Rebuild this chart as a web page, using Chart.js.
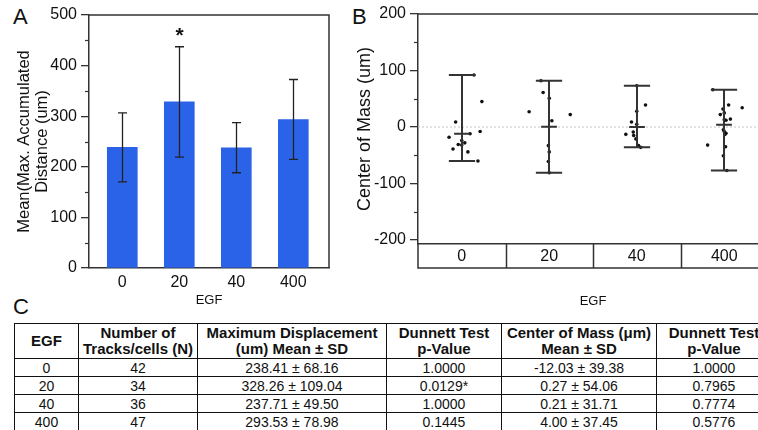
<!DOCTYPE html>
<html>
<head>
<meta charset="utf-8">
<script src="https://cdn.jsdelivr.net/npm/chart.js@4.4.1/dist/chart.umd.min.js"></script>
<style>
  body { margin: 0; width: 758px; height: 430px; overflow: hidden; position: relative; background: #fff;
         font-family: "Liberation Sans", Arial, sans-serif; color: #111; }
  .panel { position: absolute; font-size: 22px; line-height: 22px; }
  canvas { position: absolute; top: 0; }
  #tbl { position: absolute; left: 14px; top: 323px; border-collapse: collapse; table-layout: fixed; width: 757px; }
  #tbl th, #tbl td { border: 1.5px solid #111; padding: 0; text-align: center; white-space: nowrap; overflow: hidden; }
  #tbl th { font-size: 15px; line-height: 16px; font-weight: bold; height: 34px; }
  #tbl td { font-size: 14px; line-height: 16px; height: 17px; }
</style>
</head>
<body>
<div class="panel" style="left:13px; top:6px">A</div>
<div class="panel" style="left:352px; top:6px">B</div>
<div class="panel" style="left:13px; top:296px">C</div>
<canvas id="chartA" width="340" height="310" style="left:0"></canvas>
<canvas id="chartB" width="440" height="310" style="left:340px"></canvas>
<table id="tbl">
  <colgroup>
    <col style="width:64px"><col style="width:119px"><col style="width:189px">
    <col style="width:115px"><col style="width:155px"><col style="width:115px">
  </colgroup>
  <thead><tr>
    <th>EGF</th>
    <th>Number of<br>Tracks/cells (N)</th>
    <th>Maximum Displacement<br>(um) Mean ± SD</th>
    <th>Dunnett Test<br>p-Value</th>
    <th>Center of Mass (μm)<br>Mean ± SD</th>
    <th>Dunnett Test<br>p-Value</th>
  </tr></thead>
  <tbody id="tbody"></tbody>
</table>
<script>
// EGF groups and summary stats (from table C)
const egf = ['0', '20', '40', '400'];
const nTracks = [42, 34, 36, 47];
const distMean = [238.41, 328.26, 237.71, 293.53];
const distSD = [68.16, 109.04, 49.50, 78.98];
const distP = ['1.0000', '0.0129*', '1.0000', '0.1445'];
const comMean = [-12.03, 0.27, 0.21, 4.00];
const comSD = [39.38, 54.06, 31.71, 37.45];
const comP = ['1.0000', '0.7965', '0.7774', '0.5776'];

const distTicks = [0, 100, 200, 300, 400, 500];
const comTicks = [-200, -100, 0, 100, 200];

// individual tracks in panel B: center of mass (um) and horizontal jitter
const com0 = [92, 45, 9, -18, -12, -8, -24, -28, -31, -32, -39, -44, -60];
const jit0 = [0.14, 0.23, -0.07, -0.145, 0.095, 0.21, 0, 0.035, -0.04, 0, -0.10, 0.07, 0.185];
const com20 = [82, 61, 51, 27, 22, 11, -33, -44, -61, -81];
const jit20 = [-0.095, -0.07, 0, -0.23, 0.24, 0.03, -0.01, 0, -0.01, 0];
const com40 = [73, 39, 28, 9, 5, -9, -13, -15, -21, -33, -36];
const jit40 = [0, 0.10, 0, -0.06, 0, -0.04, -0.125, -0.035, -0.01, 0.02, 0.045];
const com400 = [66, 39, 34, 32, 25, 22, 14, 13, 12, -5, -8, -11, -13, -32, -35, -51, -77];
const jit400 = [-0.13, 0.05, 0.205, -0.015, 0, -0.045, 0.07, 0, 0.02, -0.01, 0, 0.02, 0.01, -0.19, 0.015, -0.01, 0.03];

const comGroups = [com0, com20, com40, com400];
const jitGroups = [jit0, jit20, jit40, jit400];

// Table C
const tbody = document.getElementById('tbody');
egf.forEach((g, i) => {
  const tr = document.createElement('tr');
  [g, nTracks[i],
   distMean[i].toFixed(2) + ' ± ' + distSD[i].toFixed(2), distP[i],
   comMean[i].toFixed(2) + ' ± ' + comSD[i].toFixed(2), comP[i]
  ].forEach(t => {
    const td = document.createElement('td');
    td.textContent = t;
    tr.appendChild(td);
  });
  tbody.appendChild(tr);
});

const FONT = 'Liberation Sans';
const lineCol = '#333';
const tickFont = { family: FONT, size: 16 };

function minorTicks(ctx, chart, from, to, step) {
  const y = chart.scales.y;
  const left = chart.chartArea.left;
  ctx.save();
  ctx.strokeStyle = lineCol;
  ctx.lineWidth = 1.2;
  for (let v = from; v <= to; v += step) {
    if (v % 100 === 0) continue;
    const py = Math.round(y.getPixelForValue(v)) + 0.5;
    ctx.beginPath();
    ctx.moveTo(left - 4, py);
    ctx.lineTo(left, py);
    ctx.stroke();
  }
  ctx.restore();
}

// Panel A: bars with SD error bars
const plotA = {
  id: 'plotA',
  afterDatasetsDraw(chart) {
    const { ctx, chartArea: a, scales: { x, y } } = chart;
    ctx.save();
    ctx.strokeStyle = '#222';
    ctx.lineWidth = 1.3;
    distMean.forEach((m, i) => {
      const xc = Math.round(x.getPixelForValue(i)) + 0.5;
      const top = y.getPixelForValue(m + distSD[i]);
      const bot = y.getPixelForValue(m - distSD[i]);
      ctx.beginPath();
      ctx.moveTo(xc, top); ctx.lineTo(xc, bot);
      ctx.moveTo(xc - 4.5, top); ctx.lineTo(xc + 4.5, top);
      ctx.moveTo(xc - 4.5, bot); ctx.lineTo(xc + 4.5, bot);
      ctx.stroke();
      if (distP[i].includes('*')) {
        ctx.fillStyle = '#111';
        ctx.font = 'bold 21px ' + FONT;
        ctx.textAlign = 'center';
        ctx.textBaseline = 'middle';
        ctx.fillText('*', xc, top - 11);
      }
    });
    // box top and right
    ctx.strokeStyle = lineCol;
    ctx.lineWidth = 1.5;
    ctx.beginPath();
    ctx.moveTo(a.left, a.top); ctx.lineTo(a.right, a.top); ctx.lineTo(a.right, a.bottom);
    ctx.stroke();
    ctx.restore();
    minorTicks(ctx, chart, 0, 500, 50);
  }
};

new Chart(document.getElementById('chartA'), {
  type: 'bar',
  data: {
    datasets: [{
      data: distMean.map((v, i) => ({ x: i, y: v })),
      backgroundColor: '#2a63e7',
      barThickness: 30
    }]
  },
  options: {
    responsive: false,
    animation: false,
    layout: { padding: { top: 15, right: 11, left: 0, bottom: 0 } },
    plugins: { legend: { display: false }, tooltip: { enabled: false } },
    scales: {
      x: {
        type: 'linear', min: -0.584, max: 3.626, offset: false,
        afterBuildTicks: s => { s.ticks = egf.map((_, i) => ({ value: i })); },
        afterFit: s => { s.height = 42; },
        grid: { offset: false, drawOnChartArea: false, drawTicks: false },
        border: { color: lineCol, width: 1.5 },
        ticks: { padding: 5, color: '#111', font: tickFont, callback: v => egf[v] },
        title: { display: true, text: 'EGF', color: '#111', font: { family: FONT, size: 13 }, padding: { top: 0, bottom: 2 } }
      },
      y: {
        min: 0, max: 500,
        afterBuildTicks: s => { s.ticks = distTicks.map(v => ({ value: v })); },
        afterFit: s => { s.width = 89; },
        grid: { drawOnChartArea: false, tickLength: 8, color: lineCol, lineWidth: 1.3 },
        border: { color: lineCol, width: 1.5 },
        ticks: { padding: 4, color: '#111', font: tickFont },
        title: {
          display: true, text: ['Mean(Max. Accumulated', 'Distance (um)'], color: '#111',
          font: { family: FONT, size: 16.5, lineHeight: 1.1 }, padding: { top: 15, bottom: 0 }
        }
      }
    }
  },
  plugins: [plotA]
});

// Panel B: individual tracks, range whiskers and mean
const plotB = {
  id: 'plotB',
  afterDatasetsDraw(chart) {
    const { ctx, chartArea: a, scales: { x, y } } = chart;
    const unit = x.getPixelForValue(1) - x.getPixelForValue(0);
    ctx.save();
    ctx.strokeStyle = '#333';
    ctx.lineWidth = 2;
    comGroups.forEach((vals, i) => {
      const xc = Math.round(x.getPixelForValue(i));
      const top = y.getPixelForValue(Math.max(...vals));
      const bot = y.getPixelForValue(Math.min(...vals));
      const mid = y.getPixelForValue(comMean[i]);
      const cap = 0.15 * unit, mw = 0.09 * unit;
      ctx.beginPath();
      ctx.moveTo(xc, top); ctx.lineTo(xc, bot);
      ctx.moveTo(xc - cap, top); ctx.lineTo(xc + cap, top);
      ctx.moveTo(xc - cap, bot); ctx.lineTo(xc + cap, bot);
      ctx.moveTo(xc - mw, mid); ctx.lineTo(xc + mw, mid);
      ctx.stroke();
    });
    // frame top, category box under the plot
    ctx.strokeStyle = lineCol;
    ctx.lineWidth = 1.5;
    const boxBot = a.bottom + 24;
    ctx.beginPath();
    ctx.moveTo(a.left, a.top); ctx.lineTo(a.right, a.top);
    ctx.moveTo(a.left, a.bottom); ctx.lineTo(a.left, boxBot); ctx.lineTo(a.right, boxBot);
    for (let i = 0; i < egf.length - 1; i++) {
      const px = Math.round(x.getPixelForValue(i + 0.5)) + 0.5;
      ctx.moveTo(px, a.bottom); ctx.lineTo(px, boxBot);
    }
    ctx.stroke();
    ctx.restore();
    minorTicks(ctx, chart, -200, 200, 50);
  }
};

new Chart(document.getElementById('chartB'), {
  type: 'scatter',
  data: {
    datasets: [{
      data: comGroups.flatMap((vals, i) => vals.map((v, k) => ({ x: i + jitGroups[i][k], y: v }))),
      backgroundColor: '#111',
      borderWidth: 0,
      pointRadius: 1.8,
      order: 1
    }, {
      type: 'line',
      data: [{ x: -0.5, y: 0 }, { x: 3.5, y: 0 }],
      borderColor: '#c4c4c4',
      borderWidth: 1,
      borderDash: [2, 2],
      pointRadius: 0,
      order: 2
    }]
  },
  options: {
    responsive: false,
    animation: false,
    layout: { padding: { top: 14, right: 12, left: 0, bottom: 0 } },
    plugins: { legend: { display: false }, tooltip: { enabled: false } },
    scales: {
      x: {
        type: 'linear', min: -0.5, max: 3.5,
        afterBuildTicks: s => { s.ticks = egf.map((_, i) => ({ value: i })); },
        afterFit: s => { s.height = 66; },
        grid: { drawOnChartArea: false, drawTicks: false },
        border: { color: lineCol, width: 1.5 },
        ticks: { padding: 3, color: '#111', font: tickFont, callback: v => egf[v] },
        title: { display: true, text: 'EGF', color: '#111', font: { family: FONT, size: 13 }, padding: { top: 0, bottom: 1 } }
      },
      y: {
        min: -207, max: 200,
        afterBuildTicks: s => { s.ticks = comTicks.map(v => ({ value: v })); },
        afterFit: s => { s.width = 78; },
        grid: { drawOnChartArea: false, tickLength: 8, color: lineCol, lineWidth: 1.3 },
        border: { color: lineCol, width: 1.5 },
        ticks: { padding: 4, color: '#111', font: tickFont },
        title: { display: true, text: 'Center of Mass (um)', color: '#111', font: { family: FONT, size: 18 }, padding: { top: 14, bottom: 0 } }
      }
    }
  },
  plugins: [plotB]
});
</script>
</body>
</html>
